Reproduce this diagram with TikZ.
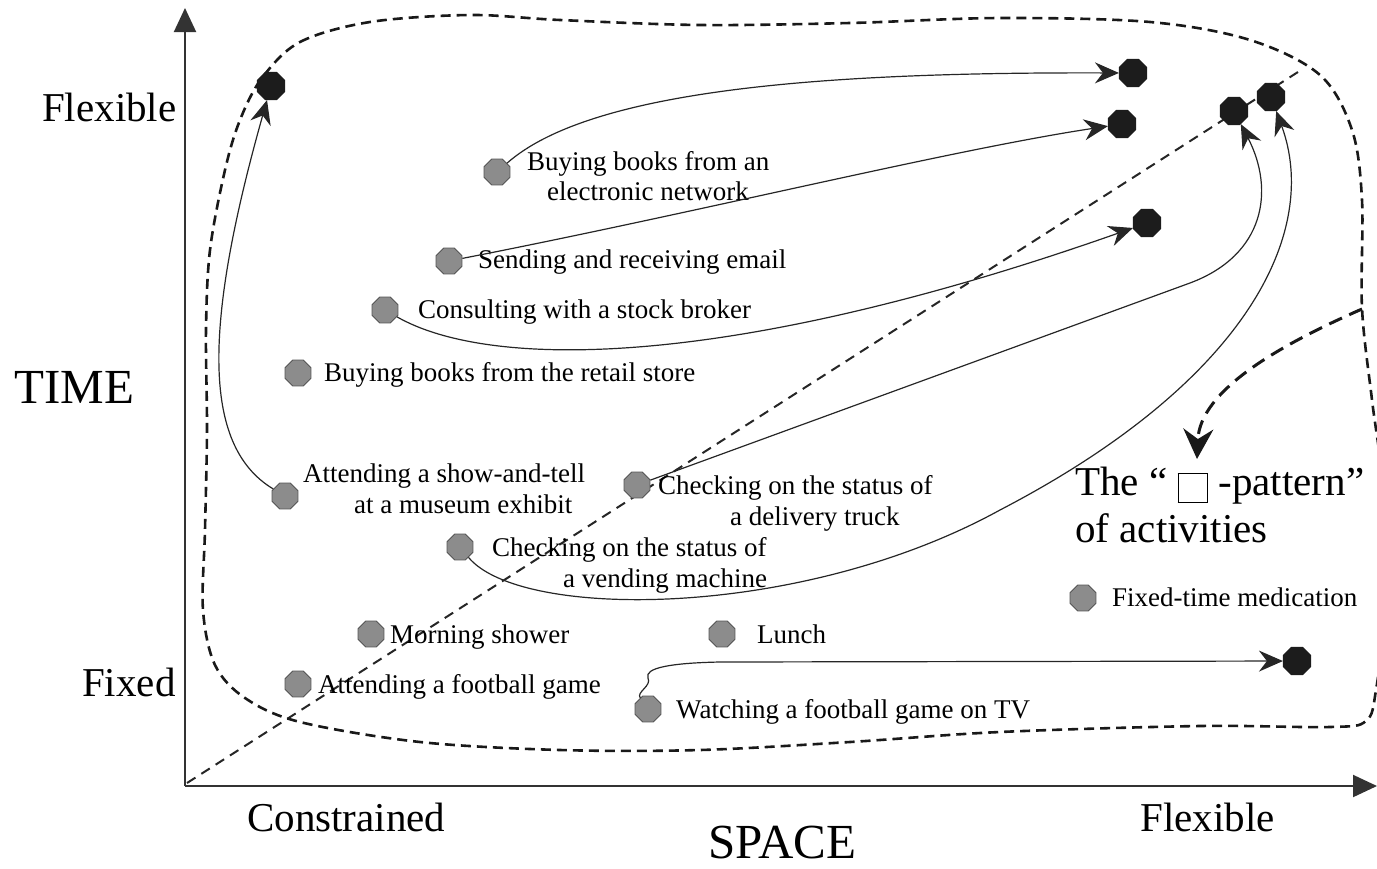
\documentclass[tikz,border=0pt]{standalone}
\usepackage{fontspec}
\setmainfont{Liberation Serif}
\usetikzlibrary{shapes.geometric,arrows.meta}
\definecolor{actgray}{HTML}{8C8C8C}
\definecolor{actedge}{HTML}{555555}
\definecolor{goalblack}{HTML}{1C1C1C}
\begin{document}
\begin{tikzpicture}[x=1pt,y=-1pt,
  lbl/.style={inner sep=0pt, anchor=base west, font=\fontsize{27}{30}\selectfont},
  biglbl/.style={inner sep=0pt, anchor=base west, font=\fontsize{41}{46}\selectfont},
  hugelbl/.style={inner sep=0pt, anchor=base west, font=\fontsize{49}{54}\selectfont},
  act/.style={regular polygon, regular polygon sides=8, minimum size=28pt, inner sep=0pt,
    fill=actgray, draw=actedge, line width=0.8pt},
  goal/.style={regular polygon, regular polygon sides=8, minimum size=30pt, inner sep=0pt,
    fill=goalblack, draw=goalblack},
  flow/.style={line width=1.2pt, draw=black!85, -{Stealth[length=24pt,width=21pt,inset=8pt]}},
  axis/.style={line width=2pt, draw=black!80, -{Triangle[length=24pt,width=22pt]}},
  region/.style={line width=2.6pt, dash pattern=on 10pt off 6pt, draw=black!90},
  diag/.style={line width=2pt, dash pattern=on 10pt off 7pt, draw=black!85},
  pointer/.style={line width=3pt, dash pattern=on 14pt off 8pt, draw=black!90,
    -{Stealth[length=30pt,width=30pt,inset=10pt]}},
]
\useasboundingbox (0,0) rectangle (1377,868);

% axes
\coordinate (o) at (185,786);
\coordinate (ytop) at (185,8);
\coordinate (xend) at (1377,786);
\draw[axis] (o) -- (ytop);
\draw[axis] (o) -- (xend);

% diagonal
\coordinate (d0) at (187,783);
\coordinate (d1) at (1298,72);
\draw[diag] (d0) -- (d1);

% region of the pattern
\draw[region] plot[smooth cycle, tension=0.55] coordinates {
  (262,78) (300,42) (370,22) (470,15) (560,20) (700,25) (850,23) (1000,18)
  (1150,22) (1250,40) (1320,75) (1352,130) (1362,200) (1362,308) (1372,400)
  (1382,480) (1386,600) (1376,690) (1366,721) (1330,727) (1200,726) (1000,732)
  (850,742) (700,750) (560,750) (420,742) (300,722) (245,698) (215,665)
  (203,610) (205,530) (207,430) (206,330) (210,250) (225,170) (240,120)};

% pointer to the caption
\coordinate (jn) at (1362,309);
\coordinate (ptip) at (1197,459);
\draw[pointer] (jn) .. controls (1280,345) and (1200,390) .. (ptip);

% axis labels
\node[biglbl] (tflex) at (42,121) {Flexible};
\node[hugelbl] (time) at (14,403) {TIME};
\node[biglbl] (tfix) at (82,696) {Fixed};
\node[biglbl] (scon) at (247,831) {Constrained};
\node[biglbl] (sflex) at (1140,831) {Flexible};
\node[hugelbl] (space) at (708,858) {SPACE};

% caption
\setlength{\fboxsep}{0pt}\setlength{\fboxrule}{1.3pt}
\node[biglbl] (cap1) at (1075,495) {The “ \fbox{\rule[-7pt]{0pt}{28pt}\hspace{28pt}} -pattern”};
\node[biglbl] (cap2) at (1075,542) {of activities};

% activities
\node[act] (m1) at (497,172) {};
\node[act] (m2) at (449,261) {};
\node[act] (m3) at (385,310) {};
\node[act] (m4) at (298,373) {};
\node[act] (m5) at (285,496) {};
\node[act] (m6) at (637,485) {};
\node[act] (m7) at (460,547) {};
\node[act] (m8) at (371,634) {};
\node[act] (m9) at (722,634) {};
\node[act] (m10) at (298,684) {};
\node[act] (m11) at (648,709) {};
\node[act] (m12) at (1083,598) {};

% transformed activities
\node[goal] (g1) at (271,86) {};
\node[goal] (g2) at (1133,73) {};
\node[goal] (g3) at (1122,124) {};
\node[goal] (g4) at (1147,223) {};
\node[goal] (g5) at (1234,111) {};
\node[goal] (g6) at (1271,97) {};
\node[goal] (g7) at (1297,661) {};

% activity labels
\node[lbl] (l1a) at (527,170) {Buying books from an};
\node[lbl] (l1b) at (547,200) {electronic network};
\node[lbl] (l2) at (478,268) {Sending and receiving email};
\node[lbl] (l3) at (418,318) {Consulting with a stock broker};
\node[lbl] (l4) at (324,381) {Buying books from the retail store};
\node[lbl] (l5a) at (303,482) {Attending a show-and-tell};
\node[lbl] (l5b) at (354,513) {at a museum exhibit};
\node[lbl] (l6a) at (658,494) {Checking on the status of};
\node[lbl] (l6b) at (730,525) {a delivery truck};
\node[lbl] (l7a) at (492,556) {Checking on the status of};
\node[lbl] (l7b) at (563,587) {a vending machine};
\node[lbl] (l8) at (390,643) {Morning shower};
\node[lbl] (l9) at (757,643) {Lunch};
\node[lbl] (l10) at (318,693) {Attending a football game};
\node[lbl] (l11) at (676,718) {Watching a football game on TV};
\node[lbl] (l12) at (1112,606) {Fixed-time medication};

% transformations
\draw[flow] (m5) .. controls (200,445) and (205,320) .. (g1);
\draw[flow] (m1) .. controls (590,90) and (820,72) .. (g2);
\draw[flow] (m2) .. controls (700,212) and (950,150) .. (g3);
\draw[flow] (m3) .. controls (490,370) and (730,370) .. (g4);
\draw[flow] (m6) -- (1190,283) .. controls (1265,255) and (1275,190) .. (g5);
\draw[flow] (m7) .. controls (520,620) and (800,620) .. (1000,510)
  .. controls (1250,380) and (1320,230) .. (g6);
\draw[flow] (m11) .. controls (636,692) and (652,686) .. (648,678)
  .. controls (644,668) and (670,663) .. (720,662) -- (g7);
\end{tikzpicture}
\end{document}
